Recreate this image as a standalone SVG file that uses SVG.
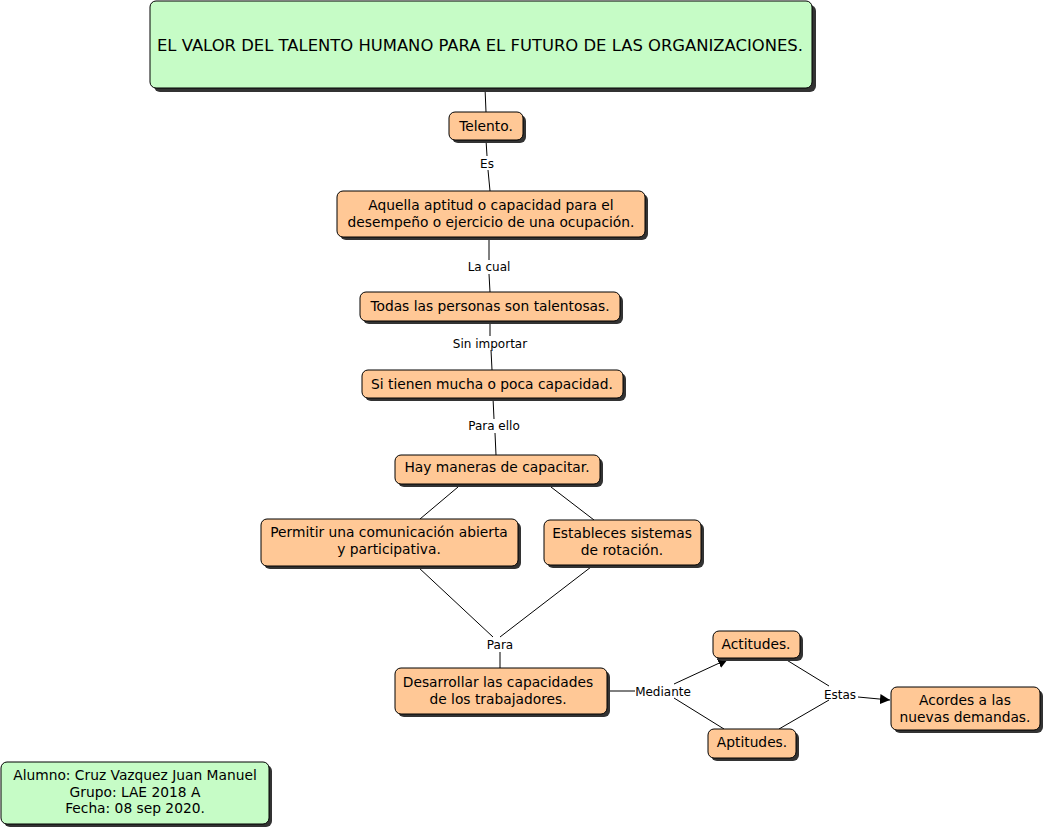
<svg xmlns="http://www.w3.org/2000/svg" width="1046" height="831" viewBox="0 0 1046 831">
<style>
.n rect.b{fill:#ffc896;stroke:#000;stroke-width:1}
.g rect.b{fill:#c6fcc6;stroke:#000;stroke-width:1}
rect.s{fill:#333}
text{font-family:"DejaVu Sans",Verdana,sans-serif;fill:#000}
.t{font-size:13.8px;text-anchor:middle}
.tt{font-size:15px;text-anchor:middle}
.l{font-size:12px;text-anchor:middle}
#connectors line{stroke:#000;stroke-width:1}
</style>
<defs>
<marker id="arr" viewBox="0 0 10 10" refX="10" refY="5" markerWidth="10" markerHeight="10" markerUnits="userSpaceOnUse" orient="auto">
<path d="M0,0 L10,5 L0,10 z" fill="#000"/>
</marker>
</defs>
<rect width="1046" height="831" fill="#fff"/>
<g id="connectors">
<line x1="485" y1="88" x2="486" y2="112"/>
<line x1="486" y1="140" x2="487" y2="156"/>
<line x1="488" y1="170" x2="490" y2="191"/>
<line x1="489" y1="237" x2="489" y2="260"/>
<line x1="489" y1="274" x2="490" y2="292"/>
<line x1="490" y1="321" x2="490" y2="336"/>
<line x1="491" y1="350" x2="492" y2="370"/>
<line x1="493" y1="398" x2="494" y2="419"/>
<line x1="495" y1="433" x2="496" y2="455"/>
<line x1="458" y1="487" x2="420" y2="519"/>
<line x1="551" y1="487" x2="594" y2="520"/>
<line x1="418" y1="567" x2="493" y2="637"/>
<line x1="591" y1="567" x2="500" y2="637"/>
<line x1="500" y1="652" x2="500" y2="668"/>
<line x1="607" y1="691" x2="635" y2="691"/>
<line x1="674" y1="684" x2="728" y2="659" marker-end="url(#arr)"/>
<line x1="674" y1="698" x2="724" y2="729"/>
<line x1="785" y1="659" x2="829" y2="686"/>
<line x1="779" y1="729" x2="829" y2="700"/>
<line x1="858" y1="697" x2="890" y2="700" marker-end="url(#arr)"/>
<text class="l" x="487" y="168">Es</text>
<text class="l" x="489" y="271">La cual</text>
<text class="l" x="490" y="348">Sin importar</text>
<text class="l" x="494" y="430">Para ello</text>
<text class="l" x="500" y="649">Para</text>
<text class="l" x="663" y="696">Mediante</text>
<text class="l" x="840" y="699">Estas</text>
</g>
<g id="title" class="g">
<rect class="s" x="154" y="5" width="662" height="87" rx="6"/>
<rect class="b" x="150" y="1" width="662" height="87" rx="6"/>
<text class="tt" x="480" y="51" textLength="646" lengthAdjust="spacingAndGlyphs">EL VALOR DEL TALENTO HUMANO PARA EL FUTURO DE LAS ORGANIZACIONES.</text>
</g>
<g id="n-telento" class="n">
<rect class="s" x="452" y="115" width="74" height="28" rx="6"/>
<rect class="b" x="449" y="112" width="74" height="28" rx="6"/>
<text class="t" x="486" y="131">Telento.</text>
</g>
<g id="n-aquella" class="n">
<rect class="s" x="340" y="194" width="308" height="46" rx="6"/>
<rect class="b" x="337" y="191" width="308" height="46" rx="6"/>
<text class="t" x="491" y="210">Aquella aptitud o capacidad para el</text>
<text class="t" x="491" y="227">desempeño o ejercicio de una ocupación.</text>
</g>
<g id="n-todas" class="n">
<rect class="s" x="363" y="295" width="260" height="29" rx="6"/>
<rect class="b" x="360" y="292" width="260" height="29" rx="6"/>
<text class="t" x="490" y="311">Todas las personas son talentosas.</text>
</g>
<g id="n-sitienen" class="n">
<rect class="s" x="365" y="373" width="261" height="28" rx="6"/>
<rect class="b" x="362" y="370" width="261" height="28" rx="6"/>
<text class="t" x="492" y="389">Si tienen mucha o poca capacidad.</text>
</g>
<g id="n-hay" class="n">
<rect class="s" x="398" y="458" width="205" height="29" rx="6"/>
<rect class="b" x="395" y="455" width="205" height="29" rx="6"/>
<text class="t" x="497" y="472">Hay maneras de capacitar.</text>
</g>
<g id="n-permitir" class="n">
<rect class="s" x="264" y="522" width="257" height="47" rx="6"/>
<rect class="b" x="261" y="519" width="257" height="47" rx="6"/>
<text class="t" x="389" y="537">Permitir una comunicación abierta</text>
<text class="t" x="389" y="554">y participativa.</text>
</g>
<g id="n-estableces" class="n">
<rect class="s" x="547" y="523" width="157" height="45" rx="6"/>
<rect class="b" x="544" y="520" width="157" height="45" rx="6"/>
<text class="t" x="622" y="538">Estableces sistemas</text>
<text class="t" x="622" y="555">de rotación.</text>
</g>
<g id="n-desarrollar" class="n">
<rect class="s" x="398" y="671" width="212" height="46" rx="6"/>
<rect class="b" x="395" y="668" width="212" height="46" rx="6"/>
<text class="t" x="498" y="687">Desarrollar las capacidades</text>
<text class="t" x="498" y="704">de los trabajadores.</text>
</g>
<g id="n-actitudes" class="n">
<rect class="s" x="716" y="634" width="87" height="27" rx="6"/>
<rect class="b" x="713" y="631" width="87" height="27" rx="6"/>
<text class="t" x="756" y="649">Actitudes.</text>
</g>
<g id="n-aptitudes" class="n">
<rect class="s" x="711" y="732" width="88" height="29" rx="6"/>
<rect class="b" x="708" y="729" width="88" height="29" rx="6"/>
<text class="t" x="752" y="747">Aptitudes.</text>
</g>
<g id="n-acordes" class="n">
<rect class="s" x="894" y="690" width="149" height="43" rx="6"/>
<rect class="b" x="891" y="687" width="149" height="43" rx="6"/>
<text class="t" x="965" y="705">Acordes a las</text>
<text class="t" x="965" y="722">nuevas demandas.</text>
</g>
<g id="n-alumno" class="g">
<rect class="s" x="4" y="765" width="268" height="62" rx="6"/>
<rect class="b" x="1" y="762" width="268" height="62" rx="6"/>
<text class="t" x="135" y="780">Alumno: Cruz Vazquez Juan Manuel</text>
<text class="t" x="135" y="797">Grupo: LAE 2018 A</text>
<text class="t" x="135" y="813">Fecha: 08 sep 2020.</text>
</g>
</svg>
